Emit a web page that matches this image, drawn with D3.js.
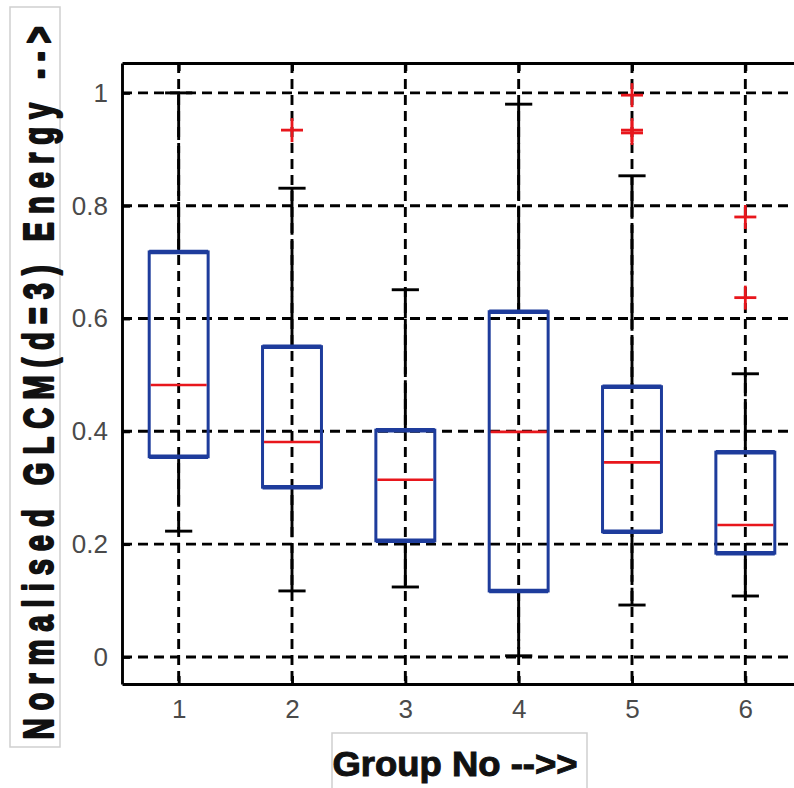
<!DOCTYPE html>
<html>
<head>
<meta charset="utf-8">
<script src="https://cdn.jsdelivr.net/npm/d3@7"></script>
<style>
  body { margin: 0; background: #fff; }
  svg { display: block; }
</style>
</head>
<body>
<div class="canvas"></div>
<script>
// data
const groups = [1, 2, 3, 4, 5, 6];
const q1 = [0.355, 0.301, 0.206, 0.117, 0.222, 0.184];
const medians = [0.482, 0.381, 0.314, 0.399, 0.345, 0.234];
const q3 = [0.718, 0.550, 0.402, 0.612, 0.479, 0.363];
const whiskLow = [0.223, 0.117, 0.124, 0.002, 0.092, 0.108];
const whiskHigh = [1.0, 0.831, 0.651, 0.980, 0.853, 0.502];
const outliers = [[], [0.934], [], [], [0.996, 0.929, 0.934], [0.780, 0.637]];
const yTicks = [0, 0.2, 0.4, 0.6, 0.8, 1];
const yTickLabels = ["0", "0.2", "0.4", "0.6", "0.8", "1"];

const dims = {width: 794, height: 788};
const plot = {left: 122, top: 63, right: 802, bottom: 684};

const svg = d3.select(".canvas").append("svg")
    .attr("width", dims.width)
    .attr("height", dims.height);

const x = d3.scaleLinear().domain([0.5, 6.5]).range([plot.left, plot.right]);
const y = d3.scaleLinear().domain([-0.048, 1.053]).range([plot.bottom, plot.top]);

const blue = "#1e3c9c";
const red = "#e8161c";
const lw = 2.9;

// grid (dashed)
const grid = svg.append("g");
grid.selectAll(".hgrid").data(yTicks).enter().append("line")
    .attr("x1", plot.left).attr("x2", plot.right)
    .attr("y1", d => y(d)).attr("y2", d => y(d))
    .attr("stroke", "#000").attr("stroke-width", lw)
    .attr("stroke-dasharray", "10,6");
grid.selectAll(".vgrid").data(groups).enter().append("line")
    .attr("x1", d => x(d)).attr("x2", d => x(d))
    .attr("y1", plot.top).attr("y2", plot.bottom)
    .attr("stroke", "#000").attr("stroke-width", lw)
    .attr("stroke-dasharray", "10,6");

const stats = groups.map((g, i) => ({
    g, q1: q1[i], med: medians[i], q3: q3[i],
    lo: whiskLow[i], hi: whiskHigh[i], out: outliers[i]
}));

const boxHalf = 0.26;
const capHalf = 0.12;

const boxes = svg.append("g").selectAll(".box").data(stats).enter().append("g");

// whiskers
boxes.append("line")
    .attr("x1", d => x(d.g)).attr("x2", d => x(d.g))
    .attr("y1", d => y(d.q3)).attr("y2", d => y(d.hi))
    .attr("stroke", "#000").attr("stroke-width", lw)
    .attr("stroke-dasharray", "50,6");
boxes.append("line")
    .attr("x1", d => x(d.g)).attr("x2", d => x(d.g))
    .attr("y1", d => y(d.q1)).attr("y2", d => y(d.lo))
    .attr("stroke", "#000").attr("stroke-width", lw)
    .attr("stroke-dasharray", "50,6");

// caps
["hi", "lo"].forEach(k => {
    boxes.append("line")
        .attr("x1", d => x(d.g - capHalf)).attr("x2", d => x(d.g + capHalf))
        .attr("y1", d => y(d[k])).attr("y2", d => y(d[k]))
        .attr("stroke", "#000").attr("stroke-width", lw);
});

// box sides
boxes.append("rect")
    .attr("x", d => x(d.g - boxHalf))
    .attr("y", d => y(d.q3))
    .attr("width", d => x(d.g + boxHalf) - x(d.g - boxHalf))
    .attr("height", d => y(d.q1) - y(d.q3))
    .attr("fill", "none")
    .attr("stroke", blue).attr("stroke-width", 3);
// heavier top and bottom edges
["q1", "q3"].forEach(k => {
    boxes.append("line")
        .attr("x1", d => x(d.g - boxHalf)).attr("x2", d => x(d.g + boxHalf))
        .attr("y1", d => y(d[k])).attr("y2", d => y(d[k]))
        .attr("stroke", blue).attr("stroke-width", 4.5);
});

// medians
boxes.append("line")
    .attr("x1", d => x(d.g - boxHalf) + 1.5).attr("x2", d => x(d.g + boxHalf) - 1.5)
    .attr("y1", d => y(d.med)).attr("y2", d => y(d.med))
    .attr("stroke", red).attr("stroke-width", 2.6);

// outliers
const outPts = stats.flatMap(d => d.out.map(v => ({g: d.g, v})));
const plus = svg.append("g").selectAll(".out").data(outPts).enter().append("g")
    .attr("transform", d => `translate(${x(d.g)},${y(d.v)})`);
plus.append("line").attr("x1", -11).attr("x2", 11).attr("y1", 0).attr("y2", 0)
    .attr("stroke", red).attr("stroke-width", 2.8);
plus.append("line").attr("x1", 0).attr("x2", 0).attr("y1", -12).attr("y2", 12)
    .attr("stroke", red).attr("stroke-width", 2.8);

// axes
const yAxis = svg.append("g")
    .attr("transform", `translate(${plot.left},0)`)
    .call(d3.axisLeft(y).tickValues(yTicks)
        .tickFormat((d, i) => yTickLabels[i])
        .tickSize(-8).tickSizeOuter(0).tickPadding(14));

const xAxis = svg.append("g")
    .attr("transform", `translate(0,${plot.bottom})`)
    .call(d3.axisBottom(x).tickValues(groups)
        .tickFormat(d3.format("d"))
        .tickSize(-8).tickSizeOuter(0).tickPadding(16));

const topAxis = svg.append("g")
    .attr("transform", `translate(0,${plot.top})`)
    .call(d3.axisTop(x).tickValues(groups).tickFormat("")
        .tickSize(-8).tickSizeOuter(0));

[yAxis, xAxis, topAxis].forEach(a => {
    a.selectAll("path, line").attr("stroke", "#000").attr("stroke-width", lw);
    a.selectAll("text")
        .attr("fill", "#4a4a4a")
        .style("font-family", "'Liberation Sans', Arial, sans-serif")
        .style("font-size", "26px");
});

// right edge of frame (mostly cropped)
svg.append("line")
    .attr("x1", plot.right).attr("x2", plot.right)
    .attr("y1", plot.top).attr("y2", plot.bottom)
    .attr("stroke", "#000").attr("stroke-width", lw);

// y label in its box
svg.append("rect")
    .attr("x", 10).attr("y", 7).attr("width", 50).attr("height", 740)
    .attr("fill", "none").attr("stroke", "#cfcfcf").attr("stroke-width", 1.5);

svg.append("g")
    .attr("transform", "translate(53,383) rotate(-90) scale(0.68,1)")
  .append("text")
    .attr("text-anchor", "middle")
    .attr("textLength", 713 / 0.68)
    .attr("lengthAdjust", "spacing")
    .style("font-family", "'Liberation Sans', Arial, sans-serif")
    .style("font-weight", "bold")
    .style("font-size", "43px")
    .attr("fill", "#111")
    .attr("stroke", "#111")
    .attr("stroke-width", 2.2)
    .attr("stroke-linejoin", "round")
    .text("Normalised GLCM(d=3) Energy -->");

// x label in its box
svg.append("rect")
    .attr("x", 332).attr("y", 733).attr("width", 255).attr("height", 70)
    .attr("fill", "none").attr("stroke", "#cfcfcf").attr("stroke-width", 1.5);

svg.append("g")
    .attr("transform", "translate(455,776) scale(0.85,1)")
  .append("text")
    .attr("text-anchor", "middle")
    .attr("textLength", 245 / 0.85)
    .attr("lengthAdjust", "spacingAndGlyphs")
    .style("font-family", "'Liberation Sans', Arial, sans-serif")
    .style("font-weight", "bold")
    .style("font-size", "35px")
    .attr("fill", "#111")
    .attr("stroke", "#111")
    .attr("stroke-width", 1)
    .text("Group No -->>");
</script>
</body>
</html>
